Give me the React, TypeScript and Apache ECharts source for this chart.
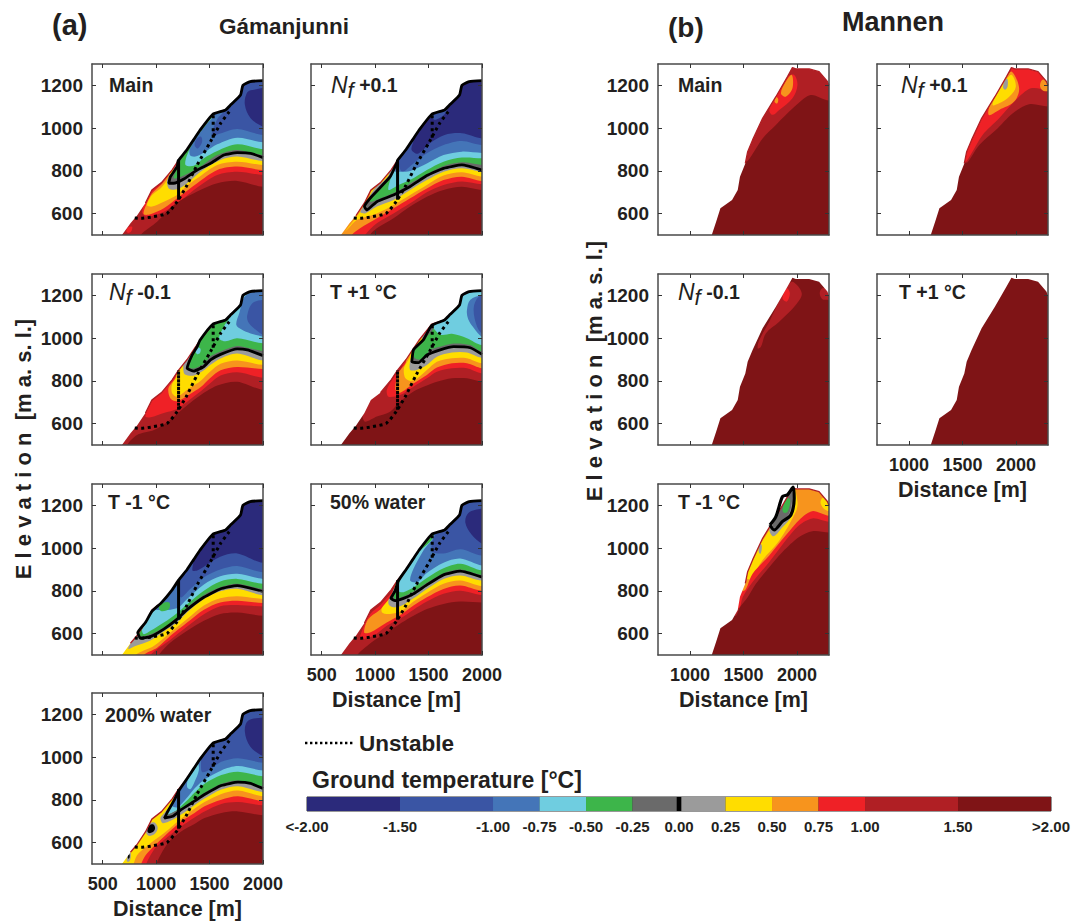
import React, { useEffect, useRef } from "react";
import * as echarts from "echarts";

const bandColors = ["#2B2A7B", "#3A55A4", "#4475B8", "#6FCDE0", "#3DB54A", "#6A6A6A", "#9B9B9B", "#FFDD00", "#F7941D", "#EF2126", "#B01F24", "#7F1416", "#000000"];

const gamanjunniSurface = [680,500,760,555,820,590,900,650,960,710,1050,745,1150,805,1210,850,1290,900,1350,945,1410,990,1530,1065,1650,1085,1700,1110,1790,1155,1812,1200,1880,1218,2000,1222];
const mannenSurface = [1203,500,1244,562,1284,625,1337,644,1393,664,1446,711,1467,773,1517,835,1539,890,1585,945,1679,1046,1803,1147,1912,1241,1958,1283,1989,1277,2114,1277,2207,1264,2285,1218,2300,1200];
const unstableLower = [800,580,860,578,978,586,1103,601,1197,656,1290,734,1384,828,1509,937,1603,1022,1697,1085];
const unstableBranch = [1534,1060,1534,950];
const boreholeLine = [1210,665,1210,850];

// Each entry: [temperature band, boundary x,y pairs, 1 if closed patch]
const gamMain = [
  [0,[1830,1110,1850,1165,1900,1178,2050,1180,2050,1000,2000,1007,1884,1046],1],
  [2,[2000,968,1759,996,1600,975,1520,965,1570,1040,1650,1095]],
  [1,[1360,920,1380,950,1420,960,1430,935,1390,905],1],
  [3,[2000,934,1759,955,1572,924,1462,890,1369,867,1316,874,1322,937,1400,991,1534,1065]],
  [4,[2000,902,1759,924,1572,893,1447,859,1353,824,1275,828,1290,874,1369,952,1478,1023,1540,1070]],
  [5,[2000,874,1759,898,1572,874,1415,820,1259,778,1165,765,1197,812,1230,860]],
  [6,[2000,862,1884,882,1759,885,1634,874,1509,835,1384,804,1259,762,1165,742,1118,742,1134,773,1197,820,1205,845]],
  [7,[2000,846,1759,867,1603,851,1415,796,1290,742,1197,714,1118,718,1103,765,1165,810]],
  [8,[2000,828,1759,843,1572,828,1384,765,1259,718,1197,687,1072,656,962,633,915,640,962,687,1056,726,1118,780]],
  [9,[2000,804,1759,820,1572,804,1384,742,1197,672,1072,625,947,597,884,597,900,633,962,695,1056,740,1165,812,1230,865]],
  [10,[2000,781,1759,796,1572,781,1384,722,1197,648,1072,609,915,586,869,609,947,705,1056,745,1197,840,1350,945,1410,990]],
  [11,[2000,726,1759,753,1572,742,1384,703,1165,640,1009,562,853,500,800,450]],
  [9,[722,516,735,535,775,539,770,520,745,510],1],
];
const gamNfPlus = [
  [1,[2000,952,1812,976,1650,968,1515,930,1400,880,1340,900,1365,955]],
  [1,[1550,1040,1640,1060,1680,1100,1600,1100,1540,1090],1],
  [2,[2000,921,1812,940,1640,921,1484,882,1359,835,1250,796,1216,860]],
  [3,[2000,884,1812,890,1640,874,1484,835,1328,800,1219,796,1180,800,1210,845]],
  [4,[2000,859,1812,862,1640,843,1484,804,1328,757,1219,734,1125,711,1156,781,1190,815]],
  [5,[2000,828,1812,840,1640,823,1484,784,1328,742,1203,703,1047,672,953,656,985,700,1100,760,1190,815]],
  [6,[2000,804,1812,828,1640,812,1484,778,1328,727,1172,687,1016,656,922,617,900,633,953,672,1141,773,1205,840]],
  [7,[2000,796,1812,812,1640,796,1484,757,1328,711,1172,664,1016,633,906,601,860,609,925,665,1000,720,1130,790]],
  [8,[2000,773,1812,793,1640,778,1484,734,1328,687,1172,640,1016,601,828,570,750,531,719,516,797,565,880,625,953,690]],
  [9,[2000,753,1812,773,1640,757,1484,718,1328,672,1172,625,1016,578,859,531,766,492,730,450]],
  [10,[2000,737,1812,750,1640,734,1484,700,1328,648,1172,601,1016,555,906,500,880,460]],
  [11,[2000,711,1812,726,1640,711,1484,679,1328,633,1172,578,1016,531,953,500,920,450]],
];
const gamNfMinus = [
  [2,[1750,1062,1780,1120,1822,1190,1900,1215,2050,1215,2050,1000,2000,1007,1884,1022,1800,1040],1],
  [1,[1853,1108,1900,1163,2000,1179,2050,1180,2050,1010,2000,1015,1915,1046,1860,1077],1],
  [4,[2000,976,1759,999,1650,985,1590,1000,1640,1060,1680,1095]],
  [3,[1370,935,1385,955,1415,950,1410,930,1385,925],1],
  [5,[2000,940,1853,955,1759,963,1603,938,1509,915,1447,880,1353,858,1310,865,1350,925,1395,965]],
  [6,[2000,918,1853,945,1759,950,1603,924,1509,898,1447,867,1353,846,1290,859,1337,921,1384,960]],
  [7,[2000,896,1759,928,1603,905,1509,875,1447,850,1353,825,1270,830,1255,850]],
  [8,[2000,875,1759,895,1603,880,1509,845,1415,800,1322,770,1197,726,1150,742,1147,781,1197,830]],
  [9,[2000,855,1759,865,1603,850,1509,815,1415,770,1322,740,1197,705,1134,718,1115,765,1187,828]],
  [10,[2000,815,1759,840,1603,825,1509,790,1415,750,1322,715,1200,670,1072,650,950,630,900,633,947,700,1025,735,1134,795,1210,855]],
  [11,[2000,758,1759,796,1572,778,1384,722,1230,660,1100,605,980,570,822,547,728,500,700,450]],
];
const gamWarm = [
  [2,[1859,1130,1891,1180,2010,1205,2050,1205,2050,1000,2000,1005,1920,1050,1870,1090],1],
  [1,[1922,1140,1969,1194,2050,1200,2050,1010,2009,1015,1953,1054],1],
  [4,[2000,968,1859,1000,1719,1020,1620,1015,1550,1045,1560,1075]],
  [5,[2000,938,1890,968,1734,975,1609,960,1516,945,1453,905,1400,900,1365,910,1375,950,1465,1000,1550,1055]],
  [6,[2000,924,1890,955,1734,960,1609,945,1484,921,1406,885,1344,890,1359,945,1453,993,1530,1060]],
  [7,[2000,908,1859,933,1719,933,1578,913,1484,874,1390,851,1328,851,1325,885,1360,945,1440,1000]],
  [8,[2000,882,1859,906,1719,906,1578,890,1484,851,1390,810,1328,800,1280,815,1270,860,1330,925]],
  [9,[2000,859,1859,882,1719,882,1578,862,1484,828,1359,788,1234,745,1190,760,1215,835,1290,895]],
  [10,[2000,835,1859,859,1719,859,1578,843,1484,812,1359,773,1234,734,1125,726,1109,757,1170,815,1260,880]],
  [11,[2000,796,1859,812,1719,812,1578,796,1484,778,1359,750,1234,703,1140,656,1016,633,906,609,880,640]],
];
const gamCold = [
  [1,[2000,931,1759,975,1600,960,1447,913,1384,895,1340,895,1350,945]],
  [2,[2000,887,1759,916,1600,900,1447,864,1322,810,1230,770,1212,850]],
  [3,[2000,856,1759,880,1600,868,1447,830,1290,762,1212,723,1134,712,1056,710,975,720]],
  [4,[2000,833,1759,856,1600,844,1447,801,1290,738,1197,697,1072,652,947,613,884,597,869,620,947,684,975,715]],
  [4,[1030,730,1070,745,1125,745,1120,715,1060,705,1030,712],1],
  [5,[2000,809,1759,833,1600,817,1447,781,1290,723,1197,676,1072,629,947,597,853,586,822,590,884,637,950,700]],
  [6,[2000,797,1759,825,1600,809,1447,770,1290,712,1197,668,1072,621,947,586,853,578,828,605,900,652,962,705]],
  [7,[2000,780,1759,810,1600,798,1447,762,1290,700,1197,652,1072,610,947,568,806,542,740,528,752,548,775,568]],
  [8,[2000,762,1759,775,1600,765,1447,731,1290,668,1134,605,978,542,806,500,780,460]],
  [9,[2000,743,1759,754,1600,746,1447,712,1290,652,1134,590,1009,534,884,500,860,460]],
  [10,[2000,727,1759,734,1600,728,1447,691,1290,633,1134,571,947,500,930,460]],
  [11,[2000,684,1759,699,1600,692,1447,660,1290,613,1134,558,1025,500,1000,460]],
];
const gamWater50 = [
  [0,[1844,1120,1875,1165,2000,1185,2050,1185,2050,1010,2000,1020,1900,1065],1],
  [2,[2000,965,1800,995,1640,975,1530,985,1560,1060,1650,1100]],
  [3,[2000,919,1797,951,1640,932,1484,884,1391,840,1328,848,1359,903,1453,990,1547,1060]],
  [4,[2000,896,1797,927,1640,906,1484,860,1359,817,1266,794,1219,800,1250,872,1391,974,1547,1063]],
  [5,[2000,875,1797,900,1640,883,1484,838,1359,797,1266,775,1187,762,1172,785,1219,825]],
  [6,[2000,864,1797,892,1640,875,1484,828,1359,786,1266,765,1187,754,1147,765,1187,800,1215,845]],
  [7,[2000,848,1797,872,1640,856,1484,809,1359,765,1250,731,1172,723,1125,739,1140,785,1200,840]],
  [8,[2000,822,1797,848,1640,833,1484,790,1359,750,1250,707,1140,692,1063,700,1078,750,1156,800]],
  [9,[2000,801,1797,825,1640,809,1484,770,1359,731,1250,692,1109,652,953,605,897,605,936,668,1062,720,1170,812]],
  [10,[2000,781,1797,801,1640,786,1484,750,1359,712,1250,676,1109,637,984,590,860,574,875,610,950,690,1056,738,1190,835]],
  [11,[2000,746,1797,750,1640,739,1484,715,1359,684,1250,652,1109,605,984,566,906,535,834,500,800,450]],
];
const gamWater200 = [
  [0,[1830,1120,1860,1170,2000,1185,2050,1185,2050,1005,2000,1005,1880,1050],1],
  [2,[2000,974,1766,995,1610,978,1510,945,1430,930,1420,985]],
  [3,[2000,938,1766,958,1610,938,1453,895,1359,853,1297,815,1200,765,1150,772,1165,815,1220,860]],
  [3,[1290,860,1300,900,1350,945,1390,970,1400,940,1360,885,1320,850],1],
  [4,[2000,911,1766,932,1610,916,1453,875,1359,833,1297,801,1190,752,1130,735,1110,730,1140,770,1200,840]],
  [5,[2000,864,1766,891,1610,875,1453,833,1359,801,1234,762,1140,738,1094,731,1140,770,1195,830]],
  [6,[2000,853,1884,877,1766,883,1610,867,1453,825,1359,794,1234,754,1156,723,1078,715,1109,746,1172,801,1215,845]],
  [7,[2000,837,1766,864,1610,848,1453,806,1359,775,1234,731,1140,703,1062,691,1040,715,1078,740,1160,800]],
  [8,[2000,817,1766,844,1610,828,1453,790,1359,759,1234,712,1078,646,953,600,880,570,820,540,790,500,780,460]],
  [9,[2000,794,1766,817,1610,801,1453,770,1359,739,1234,699,1078,630,984,585,900,540,860,500,840,460]],
  [10,[2000,775,1766,790,1610,781,1453,746,1359,718,1234,676,1078,615,984,570,906,500,880,460]],
  [11,[2000,728,1766,746,1610,739,1453,715,1359,687,1234,652,1109,597,1000,500,980,460]],
  [6,[906,650,925,685,980,695,1015,670,985,640,930,632],1],
  [12,[918,655,935,680,975,685,990,665,965,648,930,645],1],
  [6,[725,515,735,545,760,555,760,525,740,510],1],
  [12,[735,528,738,542,750,545,752,532,742,525],1],
];
const manMain = [
  [11,[2300,1129,2129,1155,2000,1110,1803,1015,1679,952,1539,846,1510,850]],
  [9,[1741,1085,1803,1155,1912,1241,1974,1249,2005,1202,1958,1140,1834,1085,1772,1062],1],
  [8,[1850,1163,1896,1218,1952,1249,1958,1186,1896,1147],1],
  [8,[1790,1125,1805,1145,1825,1135,1815,1115],1],
];
const manNfPlus = [
  [10,[2300,1179,2139,1186,1999,1131,1843,1046,1688,968,1533,843,1500,860]],
  [11,[2300,1101,2123,1112,1968,1069,1812,991,1657,921,1548,840,1520,840]],
  [8,[1744,1062,1781,1140,1905,1233,1961,1264,2030,1186,1983,1124,1843,1085],1],
  [7,[1781,1108,1828,1163,1905,1225,1961,1249,1999,1194,1937,1147,1843,1116],1],
  [6,[1880,1190,1895,1225,1920,1230,1922,1195,1900,1180],1],
  [8,[2226,1195,2245,1225,2300,1225,2330,1180,2260,1174],1],
];
const manNfMinus = [
  [10,[1632,952,1648,991,1741,1077,1896,1233,1958,1264,2045,1210,1989,1155,1834,1077,1710,1023,1663,960],1],
  [9,[1865,1186,1906,1233,1934,1210,1906,1171],1],
  [10,[2213,1210,2238,1233,2340,1230,2340,1170,2285,1179,2238,1182],1],
];
const manWarm: any[] = [];
const manCold = [
  [7,[1530,860,1590,960,1741,1085,1958,1290,2005,1217,1989,1170,1834,1035,1679,945,1570,856],1],
  [7,[2222,1209,2240,1235,2330,1225,2330,1175,2270,1178],1],
  [9,[2300,1151,2145,1173,2035,1139,1896,1060,1741,966,1585,880,1523,809,1490,800]],
  [10,[2300,1123,2145,1139,2020,1107,1896,1037,1741,935,1585,841,1492,770,1467,723,1440,720]],
  [11,[2300,1073,2145,1079,2020,1052,1865,982,1741,911,1616,833,1539,770,1467,723,1430,684,1405,690]],
  [6,[1741,1090,1800,1160,1900,1250,1965,1280,1985,1225,1950,1150,1860,1095,1780,1055],1],
  [5,[1770,1105,1820,1150,1880,1225,1950,1270,1955,1225,1925,1160,1860,1130,1790,1095],1],
  [4,[1865,1178,1900,1235,1937,1225,1912,1170,1880,1165],1],
  [6,[1641,1000,1655,1021,1672,1010,1660,974,1645,980],1],
];
const manColdZeroLoop = [1747,1108,1803,1147,1865,1241,1912,1250,1965,1285,1974,1233,1943,1155,1865,1125,1787,1085,1747,1108];

const gamXTicks = [500, 1000, 1500, 2000];
const manXTicks = [1000, 1500, 2000];
const elevationTicks = [600, 800, 1000, 1200];

const legendBandStart = [0, 2, 4, 5, 6, 7, 8, 9, 10, 11, 12, 14];
const legendBandEnd = [2, 4, 5, 6, 7, 8, 9, 10, 11, 12, 14, 16];
const legendTickAt = [0, 2, 4, 5, 6, 7, 8, 9, 10, 11, 12, 14, 16];
const legendTickText = ["<-2.00", "-1.50", "-1.00", "-0.75", "-0.50", "-0.25", "0.00", "0.25", "0.50", "0.75", "1.00", "1.50", ">2.00"];

const FONT = "'Liberation Sans', Arial, sans-serif";
const INK = "#231f20";
const colLeft = [92, 311, 658, 877];
const rowTop = [64, 274, 484, 693];

const nfText = (sign: string) => `{n|N}{f|f}{b| ${sign}}`;
const panels: any[] = [
  { site: "g", col: 0, row: 0, text: "Main", lx: 109, ly: 85, bands: gamMain, base: 1, yl: true, skin: 850 },
  { site: "g", col: 1, row: 0, text: nfText("+0.1"), lx: 331, ly: 85, bands: gamNfPlus, base: 0, skin: 800 },
  { site: "g", col: 0, row: 1, text: nfText("-0.1"), lx: 109, ly: 292, bands: gamNfMinus, base: 3, yl: true, skin: 850, hole: [3.2, 0.7] },
  { site: "g", col: 1, row: 1, text: "T +1 °C", lx: 330, ly: 292, bands: gamWarm, base: 3, skin: 1000, hole: [3.2, 0.7] },
  { site: "g", col: 0, row: 2, text: "T -1 °C", lx: 108, ly: 502, bands: gamCold, base: 0, yl: true, skin: 700 },
  { site: "g", col: 1, row: 2, text: "50% water", lx: 330, ly: 502, bands: gamWater50, base: 1, xl: true, skin: 850 },
  { site: "g", col: 0, row: 3, text: "200% water", lx: 105, ly: 715, bands: gamWater200, base: 1, yl: true, xl: true, skin: 700 },
  { site: "m", col: 2, row: 0, text: "Main", lx: 678, ly: 85, bands: manMain, base: 10, yl: true, skin: 1500 },
  { site: "m", col: 3, row: 0, text: nfText("+0.1"), lx: 901, ly: 85, bands: manNfPlus, base: 9, skin: 1500 },
  { site: "m", col: 2, row: 1, text: nfText("-0.1"), lx: 678, ly: 292, bands: manNfMinus, base: 11, yl: true },
  { site: "m", col: 3, row: 1, text: "T +1 °C", lx: 899, ly: 292, bands: manWarm, base: 11, xl: true },
  { site: "m", col: 2, row: 2, text: "T -1 °C", lx: 678, ly: 502, bands: manCold, base: 8, yl: true, xl: true, skin: 1500, loop: manColdZeroLoop },
];

const pairs = (flat: number[]) => {
  const out: number[][] = [];
  for (let i = 0; i < flat.length; i += 2) out.push([flat[i], flat[i + 1]]);
  return out;
};

function regionOf(points: number[][]) {
  const first = points[0];
  const last = points[points.length - 1];
  const right = [first[0] + 500, first[1]];
  if (last[1] < 500) return [right, ...points, [last[0], 0], [right[0], 0]];
  return [right, ...points, [last[0] - 100, 1800], [0, 1800], [0, 0], [right[0], 0]];
}

function buildOption() {
  const grid: any[] = [];
  const xAxis: any[] = [];
  const yAxis: any[] = [];
  const series: any[] = [];
  const frame = { show: true, onZero: false, lineStyle: { color: "#4a4a4a", width: 1.5 } };
  const tick = (values: number[]) => ({ show: true, inside: true, length: 4, customValues: values, lineStyle: { color: "#333", width: 1 } });
  const plain = (v: number) => String(v);

  panels.forEach((p, i) => {
    const isG = p.site === "g";
    const xMin = isG ? 400 : 700;
    const xMax = isG ? 2000 : 2300;
    const xTicks = isG ? gamXTicks : manXTicks;
    grid.push({ left: colLeft[p.col], top: rowTop[p.row], width: 171, height: 171, show: false });
    const xBase = { type: "value", gridIndex: i, min: xMin, max: xMax, z: 10, splitLine: { show: false }, axisLine: frame, axisTick: tick(xTicks) };
    const yBase = { type: "value", gridIndex: i, min: 500, max: 1300, z: 10, splitLine: { show: false }, axisLine: frame, axisTick: tick(elevationTicks) };
    xAxis.push({
      ...xBase, position: "bottom",
      axisLabel: { show: !!p.xl, customValues: xTicks, formatter: plain, margin: 11, fontFamily: FONT, fontWeight: "bold", fontSize: 18, color: INK, hideOverlap: false },
      ...(p.xl ? { name: "Distance [m]", nameLocation: "middle", nameGap: 34, nameTextStyle: { fontFamily: FONT, fontWeight: "bold", fontSize: 21.5, color: INK } } : {}),
    });
    xAxis.push({ ...xBase, position: "top", axisLabel: { show: false } });
    yAxis.push({
      ...yBase, position: "left",
      axisLabel: { show: !!p.yl, customValues: elevationTicks, formatter: plain, margin: 9, fontFamily: FONT, fontWeight: "bold", fontSize: 19, color: INK },
    });
    yAxis.push({ ...yBase, position: "right", axisLabel: { show: false } });

    const surface = pairs(isG ? gamanjunniSurface : mannenSurface);
    const layers: any[] = [
      { fill: bandColors[p.base], pts: [[0, 0], [3000, 0], [3000, 1800], [0, 1800]], smooth: 0 },
    ];
    let zero: number[][] | null = null;
    p.bands.forEach((b: any[]) => {
      const pts = pairs(b[1]);
      if (b[2]) layers.push({ fill: bandColors[b[0]], pts, smooth: 0.35 });
      else {
        layers.push({ fill: bandColors[b[0]], pts: regionOf(pts), smooth: 0.3 });
        if (b[0] === 6) zero = pts;
      }
    });
    const start = surface[0];
    layers.push({
      fill: "#ffffff",
      pts: [[start[0], 0], ...surface, [3000, surface[surface.length - 1][1]], [3000, 1800], [0, 1800], [0, 0]],
      smooth: 0,
    });
    series.push({
      type: "custom",
      coordinateSystem: "cartesian2d",
      xAxisIndex: i * 2,
      yAxisIndex: i * 2,
      clip: true,
      silent: true,
      z: 2,
      encode: { x: 0, y: 1 },
      data: layers.map(() => [xMin, 500]),
      renderItem: (params: any, api: any) => {
        const l = layers[params.dataIndex];
        return {
          type: "polygon",
          shape: { points: l.pts.map((q: number[]) => api.coord(q)), smooth: l.smooth },
          style: { fill: l.fill },
        };
      },
    });

    const lineOf = (data: number[][], color: string, width: number, dash: any = "solid", smooth: any = false) => ({
      type: "line",
      xAxisIndex: i * 2,
      yAxisIndex: i * 2,
      data,
      symbol: "none",
      silent: true,
      smooth,
      z: 3,
      lineStyle: { color, width, type: dash, cap: "butt" },
    });

    if (p.skin) series.push(lineOf(surface.filter((q) => q[0] >= p.skin), bandColors[10], 1.3));
    if (zero) {
      const z: number[][] = zero;
      const lastX = z[z.length - 1][0];
      series.push(lineOf([...z, ...surface.filter((q) => q[0] > lastX)], "#000", 2.8, "solid", 0.15));
    }
    if (p.loop) series.push(lineOf(pairs(p.loop), "#000", 3.2, "solid", 0.3));
    if (isG) {
      series.push(lineOf(pairs(boreholeLine), "#000", 3, p.hole || "solid"));
      series.push(lineOf(pairs(unstableLower), "#000", 3, [3, 3.5], 0.2));
      series.push(lineOf(pairs(unstableBranch), "#000", 3, [3, 3.5]));
    }
  });

  const barIndex = panels.length;
  grid.push({ left: 307, top: 797, width: 747, height: 14, show: true, borderColor: "#333", borderWidth: 1, backgroundColor: "#333" });
  xAxis.push({
    type: "value", gridIndex: barIndex, min: 0, max: 16, position: "bottom", splitLine: { show: false },
    axisLine: { show: false }, axisTick: { show: false },
    axisLabel: {
      customValues: legendTickAt, margin: 8, fontFamily: FONT, fontWeight: "bold", fontSize: 15, color: INK,
      formatter: (v: number) => legendTickText[legendTickAt.indexOf(v)] ?? "",
    },
  });
  yAxis.push({ type: "value", gridIndex: barIndex, min: 0, max: 1, show: false, splitLine: { show: false } });
  const rectItem = (x0: number, x1: number, fill: string, api: any) => {
    const a = api.coord([x0, 1]);
    const b = api.coord([x1, 0]);
    return { type: "rect", shape: { x: a[0], y: a[1], width: b[0] - a[0], height: b[1] - a[1] }, style: { fill } };
  };
  series.push({
    type: "custom", coordinateSystem: "cartesian2d", xAxisIndex: xAxis.length - 1, yAxisIndex: yAxis.length - 1,
    silent: true, encode: { x: 0, y: 1 }, z: 2,
    data: legendBandStart.map((s, k) => [s, legendBandEnd[k]]),
    renderItem: (params: any, api: any) =>
      rectItem(legendBandStart[params.dataIndex], legendBandEnd[params.dataIndex], bandColors[params.dataIndex], api),
  });
  series.push({
    type: "custom", coordinateSystem: "cartesian2d", xAxisIndex: xAxis.length - 1, yAxisIndex: yAxis.length - 1,
    silent: true, encode: { x: 0, y: 1 }, z: 3,
    data: [[7.95, 8.05]],
    renderItem: (_p: any, api: any) => rectItem(7.95, 8.05, "#000", api),
  });

  const text = (t: string, x: number, y: number, size: number, extra: any = {}) => ({
    type: "text", x, y, z: 100, silent: true, rotation: extra.rotation || 0,
    style: { text: t, fontFamily: FONT, fontWeight: "bold", fontSize: size, fill: INK, align: extra.align || "left", verticalAlign: "middle", rich: extra.rich },
  });
  const nfRich = {
    n: { fontFamily: FONT, fontStyle: "italic", fontSize: 23, fill: INK, color: INK },
    f: { fontFamily: FONT, fontStyle: "italic", fontSize: 22, fill: INK, color: INK, padding: [10, 0, 0, 0] },
    b: { fontFamily: FONT, fontWeight: "bold", fontSize: 19.5, fill: INK, color: INK },
  };
  const graphic: any[] = [
    text("(a)", 52, 25, 29),
    text("Gámanjunni", 219, 26, 22.5),
    text("(b)", 668, 27, 28),
    text("Mannen", 842, 22, 27),
    text("E l e v a t i o n  [m a. s. l.]", 23, 449, 22, { rotation: Math.PI / 2, align: "center" }),
    text("E l e v a t i o n  [m a. s. l.]", 594, 371, 22, { rotation: Math.PI / 2, align: "center" }),
    text("Unstable", 359, 743, 22.5),
    text("Ground temperature [°C]", 312, 780, 23),
    { type: "line", z: 100, silent: true, shape: { x1: 305, y1: 743, x2: 353, y2: 743 }, style: { stroke: "#000", lineWidth: 2.4, lineDash: [2.4, 2.6] } },
    ...panels.map((p) => text(p.text, p.lx, p.ly, 19.5, p.text.startsWith("{") ? { rich: nfRich } : {})),
  ];

  return { animation: false, backgroundColor: "#ffffff", grid, xAxis, yAxis, series, graphic };
}

export default function App() {
  const ref = useRef<HTMLDivElement>(null);
  useEffect(() => {
    const chart = echarts.init(ref.current!, undefined, { renderer: "svg" });
    chart.setOption(buildOption() as any);
    return () => chart.dispose();
  }, []);
  return <div ref={ref} style={{ position: "absolute", left: 0, top: 0, width: 1073, height: 922 }} />;
}
